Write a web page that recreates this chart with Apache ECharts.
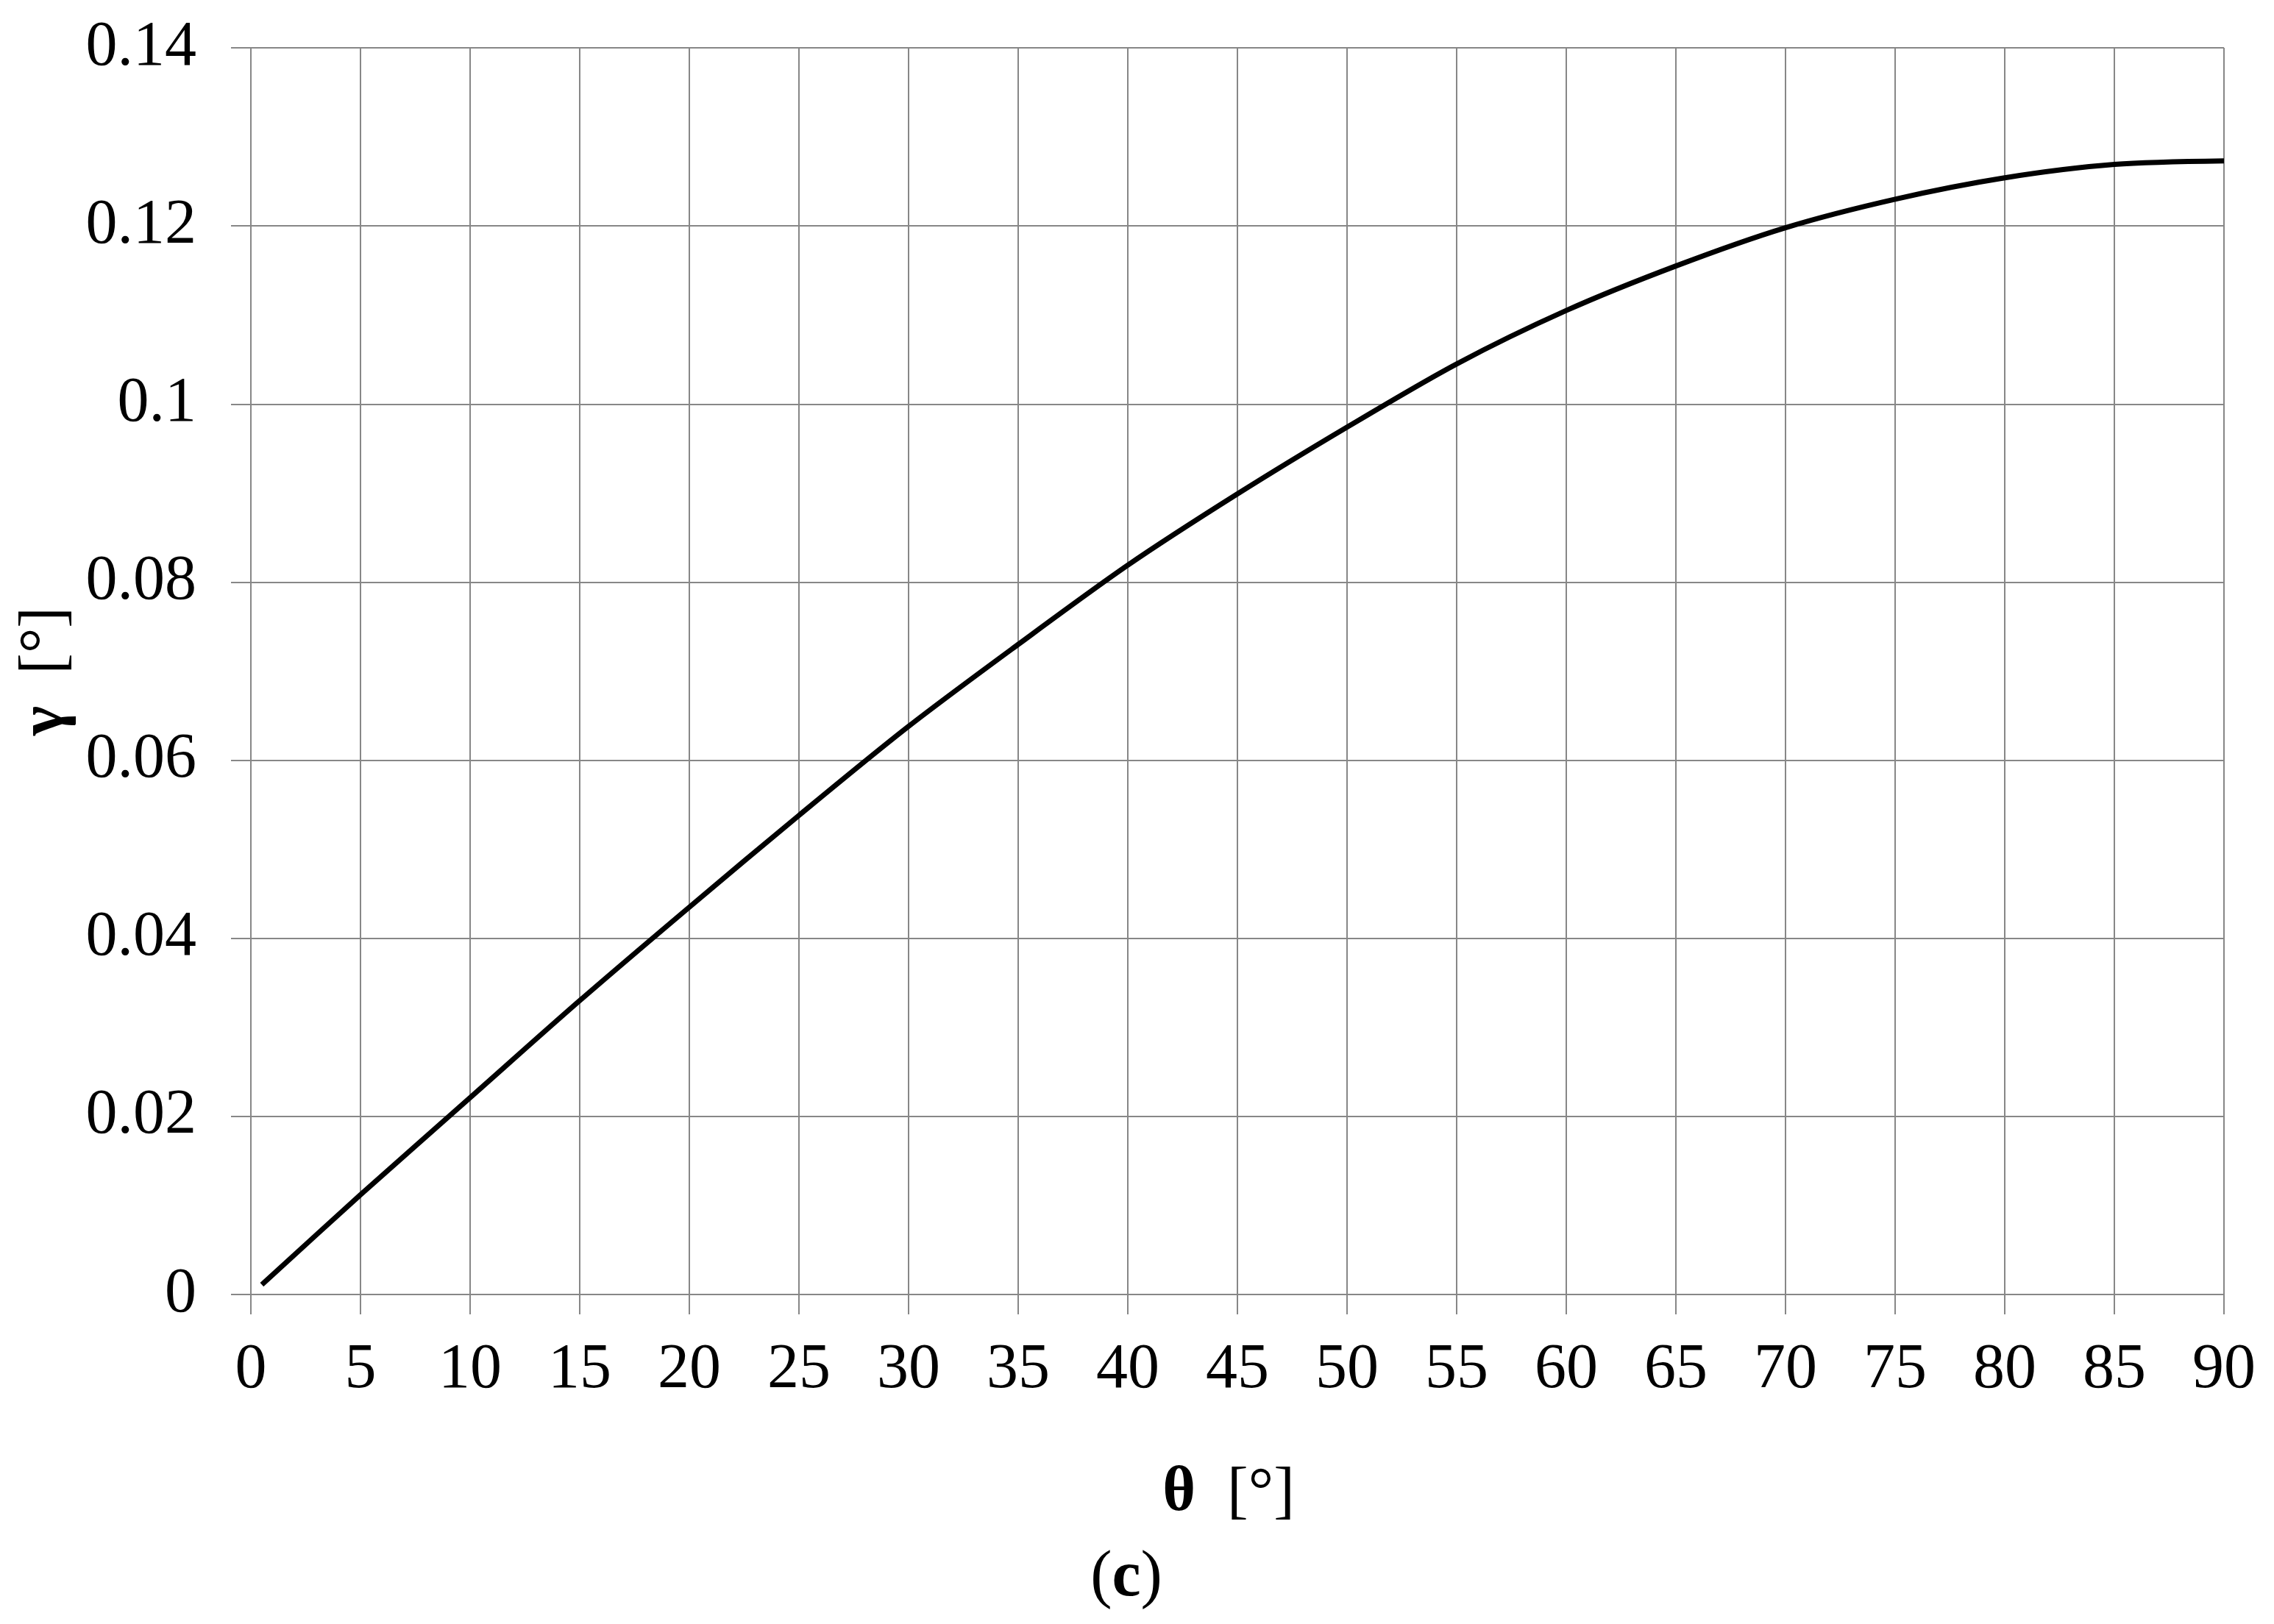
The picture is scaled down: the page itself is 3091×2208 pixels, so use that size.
<!DOCTYPE html>
<html>
<head>
<meta charset="utf-8">
<script src="https://cdn.jsdelivr.net/npm/echarts@6/dist/echarts.min.js"></script>
<style>
  html, body { margin: 0; padding: 0; background: #fff; }
  #chart { width: 3091px; height: 2208px; }
</style>
</head>
<body>
<div id="chart"></div>
<script>
// theta [deg] against gamma [deg] at the grid lines.
const THETA = [0.5, 5, 10, 15, 20, 25, 30, 35, 40, 45, 50, 55, 60, 65, 70, 75, 80, 85, 90];
const GAMMA = [
  0.0011, 0.0112, 0.0221, 0.0330, 0.0435, 0.0538, 0.0638, 0.0730, 0.0819, 0.0899,
  0.0974, 0.1045, 0.1105, 0.1155, 0.1198, 0.1230, 0.1254, 0.1269, 0.1273,
];

const X_MIN = 0, X_MAX = 90, X_STEP = 5;
const Y_MIN = 0, Y_MAX = 0.14, Y_STEP = 0.02;

const FONT = "'Liberation Serif', 'Times New Roman', serif";
const GRID_GREY = "#878787";

const points = THETA.map((t, i) => [t, GAMMA[i]]);

const gridLine = { show: true, lineStyle: { color: GRID_GREY, width: 2 } };
const boldRich = { b: { fontWeight: "bold", fontSize: 86, fontFamily: FONT, color: "#000" } };

const option = {
  animation: false,
  backgroundColor: "#fff",
  textStyle: { fontFamily: FONT },
  grid: { left: 341, right: 68, top: 65, bottom: 448, containLabel: false },
  xAxis: {
    type: "value",
    min: X_MIN,
    max: X_MAX,
    interval: X_STEP,
    axisLine: { show: true, lineStyle: { color: GRID_GREY, width: 2 } },
    axisTick: { show: true, length: 27, lineStyle: { color: GRID_GREY, width: 2 } },
    splitLine: gridLine,
    axisLabel: { color: "#000", fontSize: 86, fontFamily: FONT, margin: 60 },
    name: "{b|θ}  [°]",
    nameLocation: "middle",
    nameGap: 228,
    nameTextStyle: {
      color: "#000",
      fontSize: 86,
      fontFamily: FONT,
      padding: [0, 24, 0, 0], // the caption sits a little left of the plot centre
      rich: boldRich,
    },
  },
  yAxis: {
    type: "value",
    min: Y_MIN,
    max: Y_MAX,
    interval: Y_STEP,
    axisLine: { show: true, lineStyle: { color: GRID_GREY, width: 2 } },
    axisTick: { show: true, length: 27, lineStyle: { color: GRID_GREY, width: 2 } },
    splitLine: gridLine,
    axisLabel: { color: "#000", fontSize: 86, fontFamily: FONT, margin: 74 },
    name: "{b|γ}  [°]",
    nameLocation: "middle",
    nameGap: 236,
    nameTextStyle: { color: "#000", fontSize: 86, fontFamily: FONT, rich: boldRich },
  },
  graphic: [
    {
      type: "text",
      x: 1531,
      y: 2146,
      style: {
        text: "({b|c})",
        fill: "#000",
        font: "88px " + FONT,
        align: "center",
        verticalAlign: "middle",
        rich: { b: { fontWeight: "bold", fontSize: 88, fontFamily: FONT, fill: "#000" } },
      },
    },
  ],
  series: [
    {
      type: "line",
      data: points,
      smooth: 0.3,
      showSymbol: false,
      lineStyle: { color: "#000", width: 7 },
    },
  ],
};

const chart = echarts.init(document.getElementById("chart"));
chart.setOption(option);
</script>
</body>
</html>
